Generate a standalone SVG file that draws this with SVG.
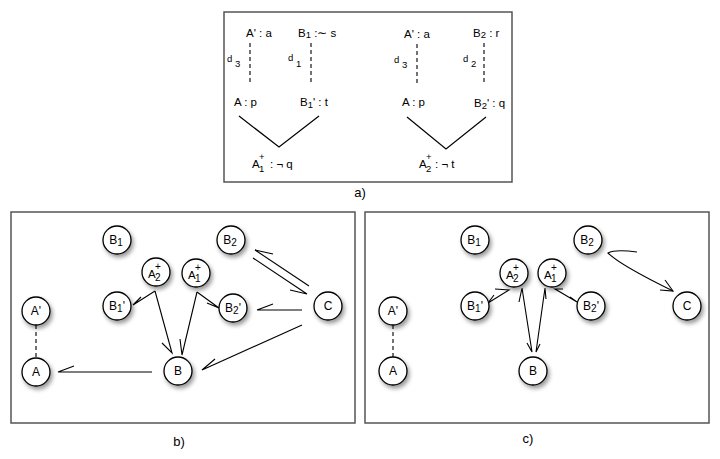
<svg xmlns="http://www.w3.org/2000/svg" width="720" height="459" viewBox="0 0 720 459">
<defs>
<filter id="sh" x="-50%" y="-50%" width="200%" height="200%">
<feDropShadow dx="2" dy="3" stdDeviation="2" flood-color="#000" flood-opacity="0.4"/>
</filter>
</defs>
<style>
text{font-family:"Liberation Sans",Arial,sans-serif;fill:#000}
.t{font-size:11.5px}
.s{font-size:9.5px}
.n{font-size:12px;text-anchor:middle}
.ns{font-size:10px}
.lbl{font-size:13px}
.box{fill:#fff;stroke:#555;stroke-width:1.5}
.node circle{fill:#fff;stroke:#000;stroke-width:1.3;filter:url(#sh)}
.e{fill:none;stroke:#000;stroke-width:1.1}
.d{fill:none;stroke:#000;stroke-width:1.1;stroke-dasharray:4,3}
.v{fill:none;stroke:#000;stroke-width:1.2}
</style>
<rect width="720" height="459" fill="#fff"/>

<!-- Panel a -->
<g id="panel-a">
<rect class="box" x="224" y="12" width="288" height="170"/>
<text class="t" x="246" y="37">A' : a</text>
<text class="t" x="298" y="37">B<tspan class="s" dy="1">1</tspan><tspan dy="-1"> :∼ s</tspan></text>
<text class="s" x="227" y="62">d</text><text class="s" x="235" y="67">3</text>
<line class="d" x1="250" y1="43" x2="250" y2="84"/>
<text class="s" x="288" y="61">d</text><text class="s" x="296" y="67">1</text>
<line class="d" x1="311" y1="43" x2="311" y2="84"/>
<text class="t" x="234" y="106">A : p</text>
<text class="t" x="300" y="106">B<tspan class="s" dy="2">1</tspan><tspan dy="-2">' : t</tspan></text>
<polyline class="v" points="239,116 279,147 319,116"/>
<text class="t" x="252" y="168">A</text><text class="s" x="259" y="160">+</text><text class="s" x="259" y="172">1</text><text class="t" x="270" y="168">: ¬ q</text>

<text class="t" x="404" y="38">A' : a</text>
<text class="t" x="473" y="37">B<tspan class="s" dy="1">2</tspan><tspan dy="-1"> : r</tspan></text>
<text class="s" x="394" y="63">d</text><text class="s" x="402" y="68">3</text>
<line class="d" x1="417" y1="44" x2="417" y2="85"/>
<text class="s" x="463" y="62">d</text><text class="s" x="471" y="67">2</text>
<line class="d" x1="484" y1="43" x2="484" y2="85"/>
<text class="t" x="402" y="106">A : p</text>
<text class="t" x="474" y="107">B<tspan class="s" dy="2">2</tspan><tspan dy="-2">' : q</tspan></text>
<polyline class="v" points="407,117 446,149 486,117"/>
<text class="t" x="419" y="168">A</text><text class="s" x="426" y="160">+</text><text class="s" x="426" y="172">2</text><text class="t" x="435" y="168">: ¬ t</text>
<text class="lbl" x="360" y="197" text-anchor="middle">a)</text>
</g>

<!-- Panel frames -->
<rect class="box" x="11" y="212" width="344" height="211"/>
<rect class="box" x="365" y="212" width="344" height="211"/>
<text class="lbl" x="179" y="446" text-anchor="middle">b)</text>
<text class="lbl" x="528" y="443" text-anchor="middle">c)</text>

<!-- Connectors b -->
<g id="connectors-b">
<line class="d" x1="36" y1="325" x2="36" y2="358"/>
<path class="e" d="M152,372 L58,372 L74,366"/>
<path class="e" d="M155,291 L133,305 L141,297"/>
<path class="e" d="M155,291 L172,353 L162,343"/>
<path class="e" d="M197,292 L182,355 L180,339"/>
<path class="e" d="M197,292 L219,308 L207,303"/>
<path class="e" d="M302,310 L257,310 L273,304"/>
<path class="e" d="M302,325 L202,370 L215,359"/>
<path class="e" d="M253,258 L307,294 L290,290"/>
<path class="e" d="M309,286 L255,250 L273,254"/>
</g>

<!-- Connectors c -->
<g id="connectors-c">
<line class="d" x1="393" y1="325" x2="393" y2="357"/>
<path class="e" d="M495,289 L509,290 L488,303 L494,295"/>
<path class="e" d="M519,302 L522,288 L532,352 L527,343"/>
<path class="e" d="M546,299 L545,288 L536,352 L540,344"/>
<path class="e" d="M563,289 L555,289 L577,302 L570,297"/>
<path class="e" d="M637,252 Q615,249 608,253 Q620,265 673,291"/>
<path class="e" d="M665,280 L673,291 L660,290"/>
</g>

<!-- Nodes b -->
<g id="b-B1" class="node"><circle cx="117" cy="240" r="14"/><text class="n" x="116" y="244">B<tspan class="ns" dy="2">1</tspan></text></g>
<g id="b-A2p" class="node"><circle cx="156" cy="272" r="14"/><text class="t" x="148" y="278">A</text><text class="ns" x="155" y="270">+</text><text class="ns" x="155" y="281">2</text></g>
<g id="b-A1p" class="node"><circle cx="196" cy="273" r="14"/><text class="t" x="188" y="279">A</text><text class="ns" x="195" y="271">+</text><text class="ns" x="195" y="282">1</text></g>
<g id="b-B2" class="node"><circle cx="231" cy="240" r="14"/><text class="n" x="230" y="244">B<tspan class="ns" dy="2">2</tspan></text></g>
<g id="b-B1q" class="node"><circle cx="117" cy="306" r="14"/><text class="n" x="117" y="310">B<tspan class="ns" dy="2">1</tspan><tspan dy="-2">'</tspan></text></g>
<g id="b-B2q" class="node"><circle cx="233" cy="308" r="14"/><text class="n" x="233" y="312">B<tspan class="ns" dy="2">2</tspan><tspan dy="-2">'</tspan></text></g>
<g id="b-C" class="node"><circle cx="328" cy="306" r="14"/><text class="n" x="328" y="310">C</text></g>
<g id="b-Ap" class="node"><circle cx="36" cy="311" r="14"/><text class="n" x="36" y="315">A'</text></g>
<g id="b-A" class="node"><circle cx="36" cy="372" r="14"/><text class="n" x="36" y="376">A</text></g>
<g id="b-B" class="node"><circle cx="178" cy="371" r="14"/><text class="n" x="178" y="375">B</text></g>

<!-- Nodes c -->
<g id="c-B1" class="node"><circle cx="475" cy="240" r="14"/><text class="n" x="474" y="244">B<tspan class="ns" dy="2">1</tspan></text></g>
<g id="c-A2p" class="node"><circle cx="514" cy="273" r="14"/><text class="t" x="506" y="279">A</text><text class="ns" x="513" y="271">+</text><text class="ns" x="513" y="282">2</text></g>
<g id="c-A1p" class="node"><circle cx="552" cy="273" r="14"/><text class="t" x="544" y="279">A</text><text class="ns" x="551" y="271">+</text><text class="ns" x="551" y="282">1</text></g>
<g id="c-B2" class="node"><circle cx="588" cy="240" r="14"/><text class="n" x="587" y="244">B<tspan class="ns" dy="2">2</tspan></text></g>
<g id="c-B1q" class="node"><circle cx="475" cy="306" r="14"/><text class="n" x="475" y="310">B<tspan class="ns" dy="2">1</tspan><tspan dy="-2">'</tspan></text></g>
<g id="c-B2q" class="node"><circle cx="591" cy="306" r="14"/><text class="n" x="591" y="310">B<tspan class="ns" dy="2">2</tspan><tspan dy="-2">'</tspan></text></g>
<g id="c-C" class="node"><circle cx="687" cy="306" r="14"/><text class="n" x="687" y="310">C</text></g>
<g id="c-Ap" class="node"><circle cx="393" cy="311" r="14"/><text class="n" x="393" y="315">A'</text></g>
<g id="c-A" class="node"><circle cx="393" cy="371" r="14"/><text class="n" x="393" y="375">A</text></g>
<g id="c-B" class="node"><circle cx="533" cy="371" r="14"/><text class="n" x="533" y="375">B</text></g>
</svg>
